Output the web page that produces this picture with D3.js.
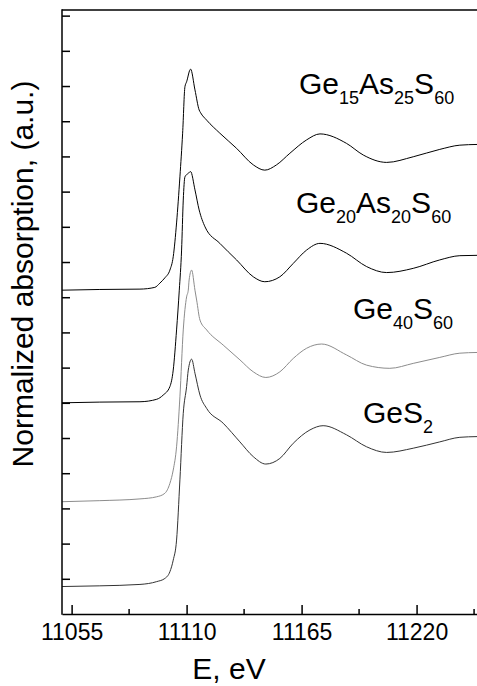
<!DOCTYPE html>
<html>
<head>
<meta charset="utf-8">
<script src="https://cdn.jsdelivr.net/npm/d3@7"></script>
<style>
  html, body { margin: 0; padding: 0; background: #fff; overflow: hidden; }
  svg { display: block; font-family: "Liberation Sans", Arial, sans-serif; }
  .axis path, .axis line { stroke: #000; stroke-width: 1.5; }
  .axis text { font-size: 23px; fill: #000; }
  .spectrum { fill: none; stroke-width: 1; }
</style>
</head>
<body>
<div id="chart"></div>
<script>
// energies (eV) and normalized absorption (offset, a.u.)
const eGe15As25S60 = [11050.4, 11068.5, 11087.7, 11094.8, 11097.2, 11099.6, 11102.0, 11103.6, 11105.2, 11106.8, 11108.1, 11109.2, 11110.0, 11111.9, 11114.0, 11116.0, 11116.7, 11119.6, 11125.9, 11133.9, 11141.9, 11147.4, 11153.0, 11159.4, 11167.4, 11173.8, 11186.5, 11194.5, 11205.7, 11218.4, 11231.1, 11240.7, 11248.9];
const aGe15As25S60 = [9.20, 9.22, 9.23, 9.28, 9.40, 9.55, 9.77, 10.15, 11.11, 12.42, 13.66, 14.98, 15.12, 15.48, 14.89, 14.32, 14.24, 14.03, 13.66, 13.23, 12.76, 12.61, 12.76, 13.09, 13.47, 13.64, 13.37, 13.04, 12.83, 12.99, 13.20, 13.32, 13.34];

const eGe20As20S60 = [11050.4, 11068.5, 11087.7, 11095.7, 11098.8, 11102.0, 11103.6, 11105.2, 11106.5, 11107.6, 11108.4, 11109.2, 11110.8, 11111.9, 11114.0, 11116.0, 11118.8, 11125.9, 11133.9, 11141.9, 11147.4, 11154.6, 11161.0, 11167.4, 11173.8, 11186.5, 11196.1, 11205.7, 11218.4, 11231.1, 11240.7, 11248.9];
const aGe20As20S60 = [6.00, 6.02, 6.03, 6.10, 6.22, 6.46, 6.93, 8.07, 9.20, 10.34, 11.76, 12.42, 12.52, 12.57, 12.05, 11.48, 11.00, 10.53, 10.06, 9.58, 9.44, 9.58, 9.96, 10.34, 10.53, 10.25, 9.87, 9.70, 9.82, 10.06, 10.18, 10.19];

const eGe40S60 = [11050.4, 11068.5, 11087.7, 11095.7, 11099.6, 11102.0, 11103.6, 11105.2, 11106.8, 11108.4, 11110.0, 11110.8, 11111.2, 11112.4, 11114.0, 11114.8, 11116.4, 11119.6, 11127.5, 11135.5, 11141.9, 11147.9, 11154.6, 11161.0, 11167.4, 11174.6, 11186.5, 11196.1, 11207.2, 11218.4, 11231.1, 11240.7, 11248.9];
const aGe40S60 = [3.19, 3.22, 3.27, 3.33, 3.43, 3.71, 4.09, 4.75, 6.17, 8.07, 9.01, 9.20, 9.49, 9.77, 9.20, 8.92, 8.35, 8.07, 7.64, 7.22, 6.88, 6.72, 6.88, 7.26, 7.55, 7.67, 7.36, 7.07, 6.98, 7.12, 7.29, 7.41, 7.43];

const eGeS2 = [11050.4, 11068.5, 11087.7, 11095.7, 11099.6, 11102.0, 11103.6, 11105.2, 11106.8, 11108.4, 11110.0, 11110.8, 11112.4, 11114.0, 11116.4, 11119.6, 11127.5, 11135.5, 11141.9, 11147.9, 11154.6, 11161.0, 11169.0, 11175.3, 11186.5, 11196.1, 11205.7, 11218.4, 11231.1, 11240.7, 11248.9];
const aGeS2 = [0.78, 0.80, 0.84, 0.92, 1.01, 1.20, 1.53, 2.10, 3.81, 5.70, 6.46, 6.93, 7.24, 6.84, 6.22, 5.84, 5.42, 4.89, 4.47, 4.26, 4.42, 4.85, 5.23, 5.35, 5.09, 4.75, 4.59, 4.71, 4.89, 5.02, 5.04];

// chemical formula labels: [element, subscript] pairs
const labelGe15As25S60 = [["Ge", "15"], ["As", "25"], ["S", "60"]];
const labelGe20As20S60 = [["Ge", "20"], ["As", "20"], ["S", "60"]];
const labelGe40S60 = [["Ge", "40"], ["S", "60"]];
const labelGeS2 = [["GeS", "2"]];

const xMajorTicks = [11055, 11110, 11165, 11220];
const xMinorTicks = [11082.5, 11137.5, 11192.5, 11247.5];
const yTicks = d3.range(1, 18);

const xTitle = "E, eV";
const yTitle = "Normalized absorption, (a.u.)";

const series = [
  { e: eGe15As25S60, a: aGe15As25S60, label: labelGe15As25S60, color: "#000", lx: 299, ly: 94 },
  { e: eGe20As20S60, a: aGe20As20S60, label: labelGe20As20S60, color: "#000", lx: 296, ly: 213 },
  { e: eGe40S60, a: aGe40S60, label: labelGe40S60, color: "#8c8c8c", lx: 353, ly: 319 },
  { e: eGeS2, a: aGeS2, label: labelGeS2, color: "#333", lx: 363, ly: 423 }
];

const width = 477, height = 686;
const margin = { top: 10, right: 0, bottom: 72, left: 62 };
const innerWidth = width - margin.left - margin.right;
const innerHeight = height - margin.top - margin.bottom;

const x = d3.scaleLinear().domain([11050.4, 11248.9]).range([0, innerWidth]);
const y = d3.scaleLinear().domain([0, 17.16]).range([innerHeight, 0]);

const svg = d3.select("#chart").append("svg")
    .attr("width", width).attr("height", height);

svg.append("defs").append("clipPath").attr("id", "clip")
  .append("rect").attr("width", innerWidth).attr("height", innerHeight);

const frame = svg.append("g").attr("transform", "translate(" + margin.left + "," + margin.top + ")");

const line = d3.line()
    .x(d => x(d[0]))
    .y(d => y(d[1]))
    .curve(d3.curveMonotoneX);

const plot = frame.append("g").attr("clip-path", "url(#clip)");
series.forEach(s => {
  plot.append("path")
      .attr("class", "spectrum")
      .attr("stroke", s.color)
      .attr("d", line(d3.zip(s.e, s.a)));
});

// x axis: major ticks with labels, minor ticks shorter, all pointing inward
const xAxis = d3.axisBottom(x).tickValues(xMajorTicks).tickFormat(d3.format("d"))
    .tickSizeInner(-9).tickSizeOuter(0).tickPadding(10);
const gx = frame.append("g").attr("class", "x axis")
    .attr("transform", "translate(0," + innerHeight + ")")
    .call(xAxis);
gx.selectAll(".minor").data(xMinorTicks).enter().append("line")
    .attr("class", "minor")
    .attr("x1", d => x(d)).attr("x2", d => x(d))
    .attr("y1", 0).attr("y2", -5);

const yAxis = d3.axisLeft(y).tickValues(yTicks).tickFormat("")
    .tickSizeInner(-8).tickSizeOuter(0);
frame.append("g").attr("class", "y axis").call(yAxis);

// top border of the frame
frame.append("line")
    .attr("x1", 0).attr("x2", innerWidth).attr("y1", 0).attr("y2", 0)
    .attr("stroke", "#000").attr("stroke-width", 1.5);
frame.select(".y.axis .domain").attr("d", "M0," + (innerHeight + 0.75) + "V-0.75");

svg.append("text")
    .attr("x", 229)
    .attr("y", 679)
    .attr("text-anchor", "middle")
    .style("font-size", "30px")
    .text(xTitle);

svg.append("text")
    .attr("transform", "translate(33,274) rotate(-90)")
    .attr("text-anchor", "middle")
    .style("font-size", "30px")
    .text(yTitle);

// formula labels with subscripts
series.forEach(s => {
  const t = svg.append("text").attr("x", s.lx).attr("y", s.ly).style("font-size", "30px");
  s.label.forEach(p => {
    t.append("tspan").attr("y", s.ly).text(p[0]);
    t.append("tspan").attr("y", s.ly + 10).style("font-size", "18px").text(p[1]);
  });
});
</script>
</body>
</html>
